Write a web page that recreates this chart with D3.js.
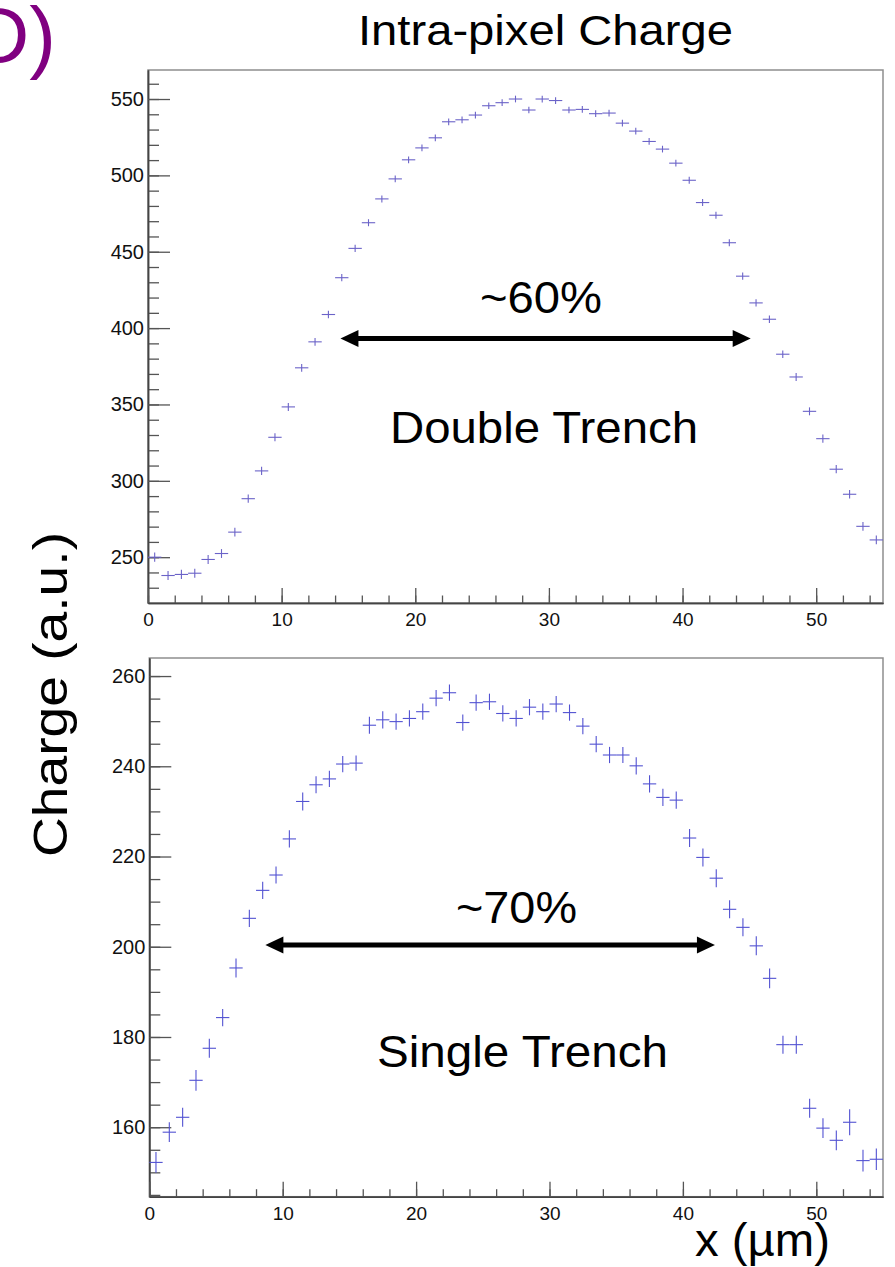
<!DOCTYPE html>
<html>
<head>
<meta charset="utf-8">
<script src="https://cdn.jsdelivr.net/npm/d3@7"></script>
<style>
  html, body { margin: 0; padding: 0; background: #fff; }
  svg { display: block; font-family: "Liberation Sans", Arial, sans-serif; }
</style>
</head>
<body>
<svg id="chart" width="895" height="1267"></svg>
<script>
// Bin centres along x (µm), 1 µm bins from 0 to 55
const binCenters = [0.5, 1.5, 2.5, 3.5, 4.5, 5.5, 6.5, 7.5, 8.5, 9.5,
  10.5, 11.5, 12.5, 13.5, 14.5, 15.5, 16.5, 17.5, 18.5, 19.5,
  20.5, 21.5, 22.5, 23.5, 24.5, 25.5, 26.5, 27.5, 28.5, 29.5,
  30.5, 31.5, 32.5, 33.5, 34.5, 35.5, 36.5, 37.5, 38.5, 39.5,
  40.5, 41.5, 42.5, 43.5, 44.5, 45.5, 46.5, 47.5, 48.5, 49.5,
  50.5, 51.5, 52.5, 53.5, 54.5];
const binHalfWidth = 0.5;

// Double trench: mean charge per bin (a.u.) and its uncertainty
const doubleTrenchCharge = [250, 238, 238.7, 239.5, 248.5, 252.4, 266.4, 288.3, 306.5, 328.5,
  348.4, 374, 391, 408.9, 433, 452.2, 469, 484.6, 497.7, 510.2,
  518, 524.6, 535.1, 536.4, 539.5, 545.6, 547.6, 550, 542.8, 550,
  549, 542.8, 543.2, 540.4, 540.8, 534.2, 529, 522.2, 517.2, 508,
  496.8, 482.2, 473.9, 455.9, 434, 416.5, 405.8, 382.9, 368, 345.5,
  327.6, 307.6, 291.2, 270.2, 261.3];
const doubleTrenchError = [3.0, 3.0, 3.0, 3.0, 2.9, 2.9, 2.8, 2.7, 2.7, 2.6,
  2.6, 2.5, 2.5, 2.4, 2.4, 2.3, 2.3, 2.3, 2.2, 2.2,
  2.2, 2.2, 2.2, 2.2, 2.2, 2.2, 2.2, 2.2, 2.2, 2.2,
  2.2, 2.2, 2.2, 2.2, 2.2, 2.2, 2.2, 2.2, 2.2, 2.2,
  2.3, 2.3, 2.3, 2.3, 2.4, 2.4, 2.5, 2.5, 2.6, 2.6,
  2.7, 2.7, 2.8, 2.9, 2.9];

// Single trench: mean charge per bin (a.u.) and its uncertainty
const singleTrenchCharge = [152.2, 158.9, 162.2, 170.4, 177.5, 184.3, 195.3, 206.3, 212.5, 215.9,
  223.9, 232.2, 235.9, 237.2, 240.5, 240.7, 249.1, 250.3, 249.9, 250.6,
  252.1, 255.1, 256.3, 249.7, 254.1, 254.3, 251.7, 250.6, 253.1, 252.1,
  253.8, 251.9, 248.9, 244.9, 242.5, 242.5, 240.1, 236.1, 233.1, 232.5,
  224.1, 219.8, 215.2, 208.3, 204.3, 200.2, 193.0, 178.3, 178.3, 164.2,
  159.8, 157.1, 161.1, 152.6, 152.9];
const singleTrenchError = [2.3, 2.2, 2.1, 2.3, 2.1, 1.9, 2.1, 1.9, 1.9, 1.9,
  1.9, 2.0, 1.9, 1.8, 1.8, 1.7, 1.9, 1.9, 1.8, 1.8,
  1.8, 1.8, 1.8, 1.8, 1.8, 1.8, 1.8, 1.8, 1.8, 1.8,
  1.8, 1.8, 1.8, 1.8, 1.8, 1.8, 1.9, 1.9, 1.9, 1.9,
  2.0, 2.0, 2.0, 2.0, 2.0, 2.1, 2.2, 2.0, 2.0, 2.1,
  2.2, 2.2, 2.9, 2.4, 2.4];

// Axis ranges and tick values
const xDomain = [0, 55];
const xMajorTicks = [0, 10, 20, 30, 40, 50];
const xMinorTicks = d3.range(0, 55, 2);
const topYDomain = [220, 569];
const topYMajorTicks = [250, 300, 350, 400, 450, 500, 550];
const topYMinorTicks = d3.range(230, 569, 10);
const bottomYDomain = [144.6, 264];
const bottomYMajorTicks = [160, 180, 200, 220, 240, 260];
const bottomYMinorTicks = d3.range(145, 264, 5);

// Width annotations: [x start, x end] in µm at a given charge level
const topArrowSpan = [14.4, 45.1];
const topArrowLevel = 393.2;
const bottomArrowSpan = [8.7, 42.4];
const bottomArrowLevel = 200.4;

const svg = d3.select("#chart");

function drawPanel(cfg) {
  const x = d3.scaleLinear().domain(xDomain).range([cfg.left, cfg.right]);
  const y = d3.scaleLinear().domain(cfg.yDomain).range([cfg.bottom, cfg.top]);
  const g = svg.append("g");

  // frame
  g.append("rect")
    .attr("x", cfg.left).attr("y", cfg.top)
    .attr("width", cfg.right - cfg.left).attr("height", cfg.bottom - cfg.top)
    .attr("fill", "none").attr("stroke", "#8e8e8e").attr("stroke-width", 1.5);

  // y axis: minor then major, ticks pointing inward
  const yMinor = g.append("g").attr("transform", `translate(${cfg.left},0)`)
    .call(d3.axisLeft(y).tickValues(cfg.yMinor).tickSizeInner(-11).tickSizeOuter(0).tickFormat(""));
  const yMajor = g.append("g").attr("transform", `translate(${cfg.left},0)`)
    .call(d3.axisLeft(y).tickValues(cfg.yMajor).tickSizeInner(-22).tickSizeOuter(0).tickPadding(4));
  [yMinor, yMajor].forEach(a => {
    a.select(".domain").attr("stroke", "#444").attr("stroke-width", 1.5);
    a.selectAll(".tick line").attr("stroke", "#555").attr("stroke-width", 1.3);
  });
  yMajor.selectAll(".tick text").attr("font-size", 20).attr("fill", "#111")
    .attr("font-family", "Liberation Sans, Arial, sans-serif");

  // x axis
  const xMinor = g.append("g").attr("transform", `translate(0,${cfg.bottom})`)
    .call(d3.axisBottom(x).tickValues(xMinorTicks).tickSizeInner(-7.5).tickSizeOuter(0).tickFormat(""));
  const xMajor = g.append("g").attr("transform", `translate(0,${cfg.bottom})`)
    .call(d3.axisBottom(x).tickValues(xMajorTicks).tickSizeInner(-15).tickSizeOuter(0).tickPadding(cfg.xPad));
  [xMinor, xMajor].forEach(a => {
    a.select(".domain").attr("stroke", "#444").attr("stroke-width", 1.5);
    a.selectAll(".tick line").attr("stroke", "#555").attr("stroke-width", 1.3);
  });
  xMajor.selectAll(".tick text").attr("font-size", 19).attr("fill", "#111")
    .attr("font-family", "Liberation Sans, Arial, sans-serif");

  // data points with error bars
  const pts = g.append("g").attr("stroke", cfg.color).attr("stroke-width", cfg.lw);
  binCenters.forEach((xc, i) => {
    const v = cfg.values[i], e = cfg.errors[i];
    pts.append("line")
      .attr("x1", x(xc - binHalfWidth)).attr("x2", x(xc + binHalfWidth))
      .attr("y1", y(v)).attr("y2", y(v));
    pts.append("line")
      .attr("x1", x(xc)).attr("x2", x(xc))
      .attr("y1", y(v - e)).attr("y2", y(v + e));
  });

  // double-headed width arrow
  const ax0 = x(cfg.arrowSpan[0]), ax1 = x(cfg.arrowSpan[1]), ay = y(cfg.arrowLevel);
  const head = 18, half = 8.5;
  g.append("line")
    .attr("x1", ax0 + head - 2).attr("x2", ax1 - head + 2)
    .attr("y1", ay).attr("y2", ay)
    .attr("stroke", "#000").attr("stroke-width", 5);
  g.append("path")
    .attr("d", `M${ax0},${ay} L${ax0 + head},${ay - half} L${ax0 + head},${ay + half} Z`)
    .attr("fill", "#000");
  g.append("path")
    .attr("d", `M${ax1},${ay} L${ax1 - head},${ay - half} L${ax1 - head},${ay + half} Z`)
    .attr("fill", "#000");

  return { x, y };
}

drawPanel({
  left: 148, right: 883, top: 70, bottom: 603, xPad: 10,
  yDomain: topYDomain, yMajor: topYMajorTicks, yMinor: topYMinorTicks,
  values: doubleTrenchCharge, errors: doubleTrenchError,
  color: "#6b63c8", lw: 1.1,
  arrowSpan: topArrowSpan, arrowLevel: topArrowLevel
});

drawPanel({
  left: 149.3, right: 883, top: 658, bottom: 1196.7, xPad: 9.5,
  yDomain: bottomYDomain, yMajor: bottomYMajorTicks, yMinor: bottomYMinorTicks,
  values: singleTrenchCharge, errors: singleTrenchError,
  color: "#5252d2", lw: 1.1,
  arrowSpan: bottomArrowSpan, arrowLevel: bottomArrowLevel
});

// text overlays
function label(txt, xPos, yPos, size, len, opts = {}) {
  const t = svg.append("text")
    .attr("x", xPos).attr("y", yPos)
    .attr("font-size", size)
    .attr("fill", opts.fill || "#000")
    .attr("text-anchor", opts.anchor || "start")
    .text(txt);
  if (len) t.attr("textLength", len).attr("lengthAdjust", "spacingAndGlyphs");
  if (opts.rotate) t.attr("transform", `rotate(${opts.rotate},${xPos},${yPos})`);
  return t;
}

label("Intra-pixel Charge", 358, 45, 42, 375);
label("~60%", 480, 313, 45, 122);
label("Double Trench", 390, 443, 45, 308);
label("~70%", 456, 923, 45, 121);
label("Single Trench", 377, 1067, 45, 291);
label("Charge (a.u.)", 67, 857, 48, 325, { rotate: -90 });
label("x (µm)", 695, 1256, 47, 135);
label("D)", 56, 63, 80, null, { fill: "#800080", anchor: "end" });
</script>
</body>
</html>
